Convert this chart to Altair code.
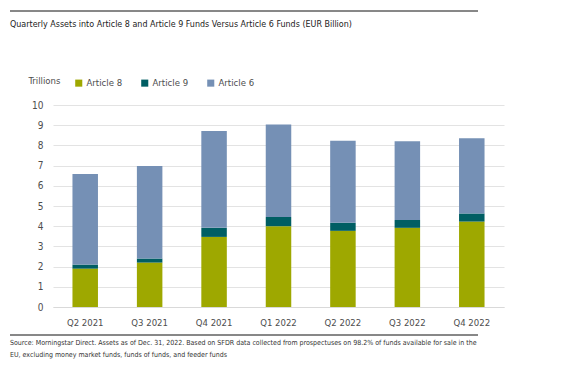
import altair as alt
import pandas as pd

quarters = ["Q2 2021", "Q3 2021", "Q4 2021", "Q1 2022", "Q2 2022", "Q3 2022", "Q4 2022"]
article8 = [1.90, 2.20, 3.47, 4.00, 3.77, 3.92, 4.23]
article9 = [0.20, 0.20, 0.45, 0.46, 0.40, 0.39, 0.40]
article6 = [4.48, 4.58, 4.79, 4.58, 4.06, 3.89, 3.73]
series = ["Article 8", "Article 9", "Article 6"]
colors = ["#9EA800", "#005E63", "#7590B5"]

title_text = "Quarterly Assets into Article 8 and Article 9 Funds Versus Article 6 Funds (EUR Billion)"
source_lines = [
    "Source: Morningstar Direct. Assets as of Dec. 31, 2022. Based on SFDR data collected from prospectuses on 98.2% of funds available for sale in the",
    "EU, excluding money market funds, funds of funds, and feeder funds",
]

FONT = "DejaVu Sans Condensed, DejaVu Sans, sans-serif"

rows = []
for i, q in enumerate(quarters):
    for k, (s, vals) in enumerate(zip(series, [article8, article9, article6])):
        rows.append({"quarter": q, "series": s, "value": vals[i], "order": k})
df = pd.DataFrame(rows)

W, H = 451, 202

bars = alt.Chart(df).mark_bar(size=25.5).encode(
    x=alt.X("quarter:N", sort=quarters, title=None,
            scale=alt.Scale(paddingInner=0.6, paddingOuter=0.3),
            axis=alt.Axis(labelAngle=0, ticks=False, domain=True, domainColor="#d9d9d9",
                          labelFont=FONT, labelFontSize=9.5, labelColor="#4d4d4d",
                          labelPadding=10, grid=False)),
    y=alt.Y("value:Q", stack="zero", title="Trillions",
            scale=alt.Scale(domain=[0, 10], nice=False),
            axis=alt.Axis(values=list(range(0, 11)), ticks=False, domain=False,
                          gridColor="#e3e3e3", labelFont=FONT, labelFontSize=10,
                          labelColor="#4d4d4d", labelPadding=10,
                          titleAngle=0, titleAlign="left", titleBaseline="middle",
                          titleX=-25, titleY=-25, titleFont=FONT, titleFontSize=9.5,
                          titleFontWeight="normal", titleColor="#4d4d4d")),
    color=alt.Color("series:N", scale=alt.Scale(domain=series, range=colors),
                    legend=alt.Legend(title=None, orient="none", legendX=21, legendY=-27,
                                      direction="horizontal", symbolType="square",
                                      symbolSize=50, symbolStrokeWidth=0,
                                      labelFont=FONT, labelFontSize=9.5, labelColor="#4d4d4d",
                                      labelOffset=3, columnPadding=17)),
    order=alt.Order("order:Q"),
)

title_df = pd.DataFrame({"t": [title_text]})
title = alt.Chart(title_df).mark_text(align="left", baseline="middle", font=FONT,
                                      fontSize=8.9, color="#222222").encode(
    x=alt.value(-43), y=alt.value(-81), text="t:N")

src_df = pd.DataFrame({"t": source_lines, "line": [0, 1]})
source = alt.Chart(src_df).mark_text(align="left", baseline="middle", font=FONT,
                                     fontSize=7.0, color="#333333").encode(
    x=alt.value(-43),
    y=alt.Y("line:Q", scale=alt.Scale(domain=[0, 1], range=[238, 250]), axis=None),
    text="t:N")

top_rule = alt.Chart(title_df).mark_rule(color="#111111", strokeWidth=1).encode(
    x=alt.value(-43), x2=alt.value(425), y=alt.value(-94))
bottom_rule = alt.Chart(title_df).mark_rule(color="#111111", strokeWidth=1).encode(
    x=alt.value(-43), x2=alt.value(425), y=alt.value(230))

chart = alt.layer(bars, title, source, top_rule, bottom_rule).resolve_scale(
    y="independent"
).properties(
    width=W, height=H,
    autosize=alt.AutoSizeParams(type="none"),
    padding={"left": 45, "top": 97, "right": 50, "bottom": 60},
).configure_view(stroke=None)

chart.save("out.html", embed_options={"renderer": "svg", "actions": False})
